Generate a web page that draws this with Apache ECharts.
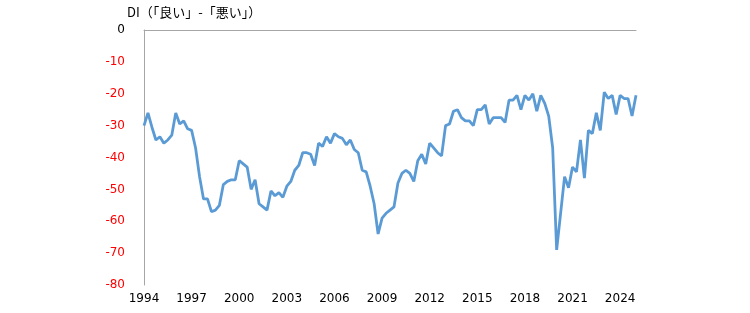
<!DOCTYPE html>
<html>
<head>
<meta charset="utf-8">
<script src="https://cdn.jsdelivr.net/npm/echarts@6/dist/echarts.min.js"></script>
<style>html,body{margin:0;padding:0;background:#fff;}#c{width:750px;height:313px;}</style>
</head>
<body>
<div id="c"></div>
<script>
var titleText = 'DI（「良い」-「悪い」）';
var startYear = 1994;
var yTicks = [0, -10, -20, -30, -40, -50, -60, -70, -80];
var diValues = [
  -30, -26, -30.5, -34.5, -33.5, -35.5, -34.5, -33, -26, -29.5, -28.5, -31,
  -31.5, -37, -46, -53, -53, -57, -56.5, -55, -48.5, -47.5, -47, -47,
  -41, -42, -43, -50, -47, -54.5, -55.5, -56.5, -50.5, -52, -51, -52.5,
  -49, -47.5, -44, -42.5, -38.5, -38.5, -39, -42.5, -35.5, -36.5, -33.5, -35.5,
  -32.5, -33.5, -34, -36, -34.5, -37.5, -38.5, -44, -44.5, -49, -54.5, -64,
  -59, -57.5, -56.5, -55.5, -48, -45, -44, -45, -47.5, -41, -39, -42,
  -35.5, -37, -38.5, -39.5, -30, -29.5, -25.5, -25, -27.5, -28.5, -28.5, -30,
  -25, -25, -23.5, -29.5, -27.5, -27.5, -27.5, -29, -22, -22, -20.5, -25,
  -20.5, -22, -20, -25.5, -20.5, -23, -27, -37, -69, -57.5, -46, -49.5,
  -43, -44.5, -34.5, -46.5, -31.5, -32.5, -26, -31.5, -19.5, -21.5, -20.5, -26.5,
  -20.5, -21.5, -21.5, -27, -20.5
];
var categories = [];
for (var k = 0; k < diValues.length; k++) {
  categories.push(String(startYear + Math.floor(k / 4)) + 'Q' + (k % 4 + 1));
}
var chart = echarts.init(document.getElementById('c'));
chart.setOption({
  animation: false,
  backgroundColor: '#ffffff',
  title: {
    text: titleText,
    left: 122, top: 1,
    textStyle: {fontSize: 13, fontWeight: 'normal', color: '#000', fontFamily: 'Noto Sans CJK JP'}
  },
  grid: {left: 144, top: 30, width: 492, height: 255, containLabel: false},
  xAxis: [{
    type: 'category', data: categories, boundaryGap: false, position: 'top',
    axisLine: {show: true, lineStyle: {color: '#a6a6a6', width: 1}},
    axisTick: {show: false}, axisLabel: {show: false}, splitLine: {show: false}
  }, {
    type: 'category', data: categories, boundaryGap: false, position: 'bottom',
    axisLine: {show: false}, axisTick: {show: false}, splitLine: {show: false},
    axisLabel: {
      interval: 11, margin: 8, fontSize: 12, color: '#000', fontFamily: 'DejaVu Sans',
      formatter: function (v) { return v.slice(0, 4); }
    }
  }],
  yAxis: {
    type: 'value', min: -80, max: 0, interval: 10,
    axisLine: {show: true, lineStyle: {color: '#a6a6a6', width: 1}},
    axisTick: {show: false}, splitLine: {show: false},
    axisLabel: {
      margin: 19, fontSize: 12, fontFamily: 'DejaVu Sans',
      color: function (v) { return Number(v) < 0 ? '#ff0000' : '#000000'; }
    }
  },
  series: [{
    type: 'line', xAxisIndex: 1, data: diValues, showSymbol: false, symbol: 'none',
    lineStyle: {color: '#5b9bd5', width: 2.8}, itemStyle: {color: '#5b9bd5'}
  }]
});
</script>
</body>
</html>
